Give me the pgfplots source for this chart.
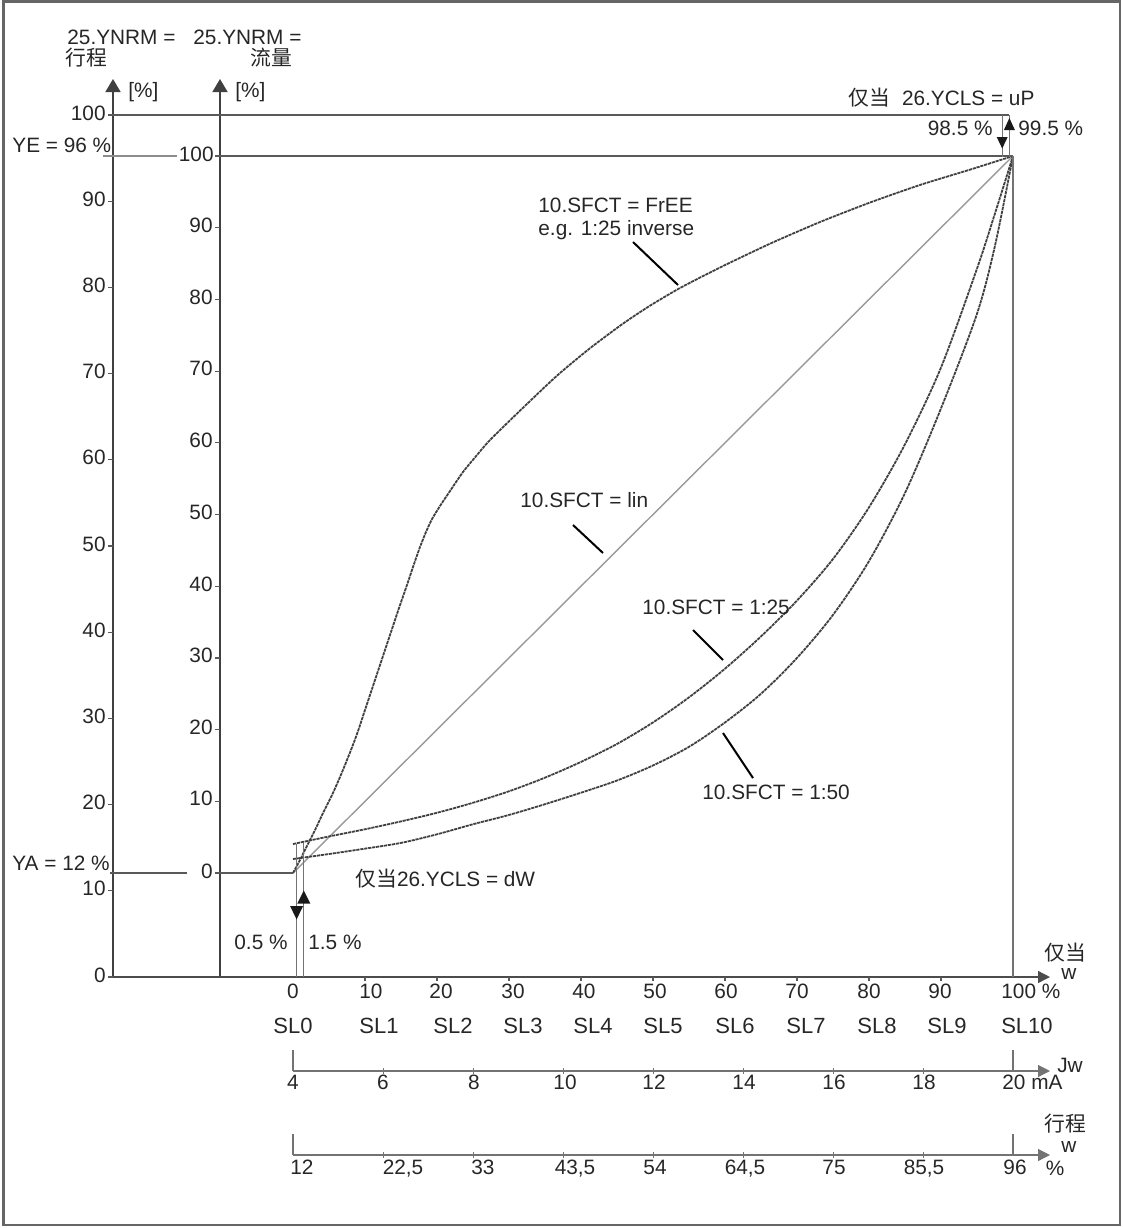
\documentclass[border=0pt]{standalone}
\usepackage{fontspec}
\setmainfont{Liberation Sans}
\newfontfamily\cjk{Noto Sans CJK SC}
\usepackage{pgfplots}
\usepackage{pgfplotstable}
\pgfplotsset{compat=1.18}
\usetikzlibrary{arrows.meta}

\pgfplotstableread{
x y
0 0
100 100
}\lintable

\pgfplotstableread{
x y
0 0
0.97 1.81
1.94 3.77
3.06 6.00
4.17 8.37
5.42 10.88
6.53 13.39
7.78 16.46
8.89 19.39
10.0 22.73
11.11 26.08
12.22 29.43
13.47 33.19
14.58 36.54
15.83 40.17
16.81 43.10
17.64 45.47
18.47 47.56
19.31 49.37
20.42 51.19
21.53 52.86
23.61 55.93
25.56 58.30
27.36 60.39
31.94 64.88
36.67 69.37
41.25 73.19
45.83 76.62
49.58 79.12
53.75 81.59
59.31 84.45
66.25 87.77
73.19 90.79
80.14 93.51
87.08 95.96
94.03 98.10
100 100
}\freetable

\pgfplotstableread{
x y
0 4.04
5 5.1
10 6.1
15 7.2
20 8.4
25 9.8
30 11.4
35 13.3
40 15.5
45 18.0
50 21.0
55 24.5
60 28.5
65 33.0
70 38.0
75 43.8
80 51.0
85 59.8
90 70.5
95 84.3
97.5 92.0
100 100
}\onetwentyfive

\pgfplotstableread{
x y
0 1.95
5 2.65
10 3.4
15 4.2
20 5.4
25 6.8
30 8.1
35 9.6
40 11.2
45 12.9
50 15.0
55 17.6
60 21.0
65 25.0
70 30.0
75 36.0
80 43.5
85 53.0
90 64.8
95 78.0
97.5 87.5
100 100
}\onefifty

\tikzset{
  lbl/.style={font=\fontsize{10.4}{12}\selectfont, inner sep=0pt, text=black!85},
  sl/.style={font=\fontsize{11}{13}\selectfont, inner sep=0pt, text=black!85},
  guide/.style={black!65, line width=0.6pt},
  curve/.style={black!75, line width=0.9pt, dash pattern=on 1.6pt off 0.4pt},
}

\begin{document}
\begin{tikzpicture}
\begin{axis}[
  scale only axis, width=561.5pt, height=614pt,
  xmin=0, xmax=1123, ymin=0, ymax=1228, y dir=reverse,
  hide axis, clip=false, enlargelimits=false,
]
% invisible full-size box
\addplot[draw=none] coordinates {(0,0) (1123,1228)};
% frame
\draw[black!60, line width=1.2pt] (3.5,1.5) rectangle (1120,1225);

% curves
\addplot[black!40, line width=0.7pt] table[x expr=293+7.2*\thisrow{x}, y expr=873-7.17*\thisrow{y}] {\lintable};
\addplot[curve, smooth, tension=0.4] table[x expr=293+7.2*\thisrow{x}, y expr=873-7.17*\thisrow{y}] {\freetable};
\addplot[curve, smooth] table[x expr=293+7.2*\thisrow{x}, y expr=873-7.17*\thisrow{y}] {\onetwentyfive};
\addplot[curve, smooth] table[x expr=293+7.2*\thisrow{x}, y expr=873-7.17*\thisrow{y}] {\onefifty};

% vertical axes
\draw[black!75, line width=0.9pt, -{Triangle[length=6.5pt,width=7.5pt]}] (113,977) -- (113,79);
\draw[black!75, line width=0.9pt, -{Triangle[length=6.5pt,width=7.5pt]}] (220,977) -- (220,79);
% bottom line
\draw[black!70, line width=0.7pt, -{Triangle[length=6pt,width=6pt]}] (113,977) -- (1050,977);

% left axis ticks
\draw[guide] (108,977)--(113,977) (108,890.8)--(113,890.8) (108,804.6)--(113,804.6) (108,718.4)--(113,718.4)
 (108,632.2)--(113,632.2) (108,546)--(113,546) (108,459.8)--(113,459.8) (108,373.6)--(113,373.6)
 (108,287.4)--(113,287.4) (108,201.2)--(113,201.2) (108,115)--(113,115);
\node[lbl,anchor=east] at (106,975) {0};
\node[lbl,anchor=east] at (106,888.8) {10};
\node[lbl,anchor=east] at (106,802.6) {20};
\node[lbl,anchor=east] at (106,716.4) {30};
\node[lbl,anchor=east] at (106,630.2) {40};
\node[lbl,anchor=east] at (106,544) {50};
\node[lbl,anchor=east] at (106,457.8) {60};
\node[lbl,anchor=east] at (106,371.6) {70};
\node[lbl,anchor=east] at (106,285.4) {80};
\node[lbl,anchor=east] at (106,199.2) {90};
\node[lbl,anchor=east] at (106,113) {100};

% flow axis ticks
\draw[guide] (215,873)--(220,873) (215,801.3)--(220,801.3) (215,729.6)--(220,729.6) (215,657.9)--(220,657.9)
 (215,586.2)--(220,586.2) (215,514.5)--(220,514.5) (215,442.8)--(220,442.8) (215,371.1)--(220,371.1)
 (215,299.4)--(220,299.4) (215,227.7)--(220,227.7) (215,156)--(220,156);
\node[lbl,anchor=east] at (213,871) {0};
\node[lbl,anchor=east] at (213,798.5) {10};
\node[lbl,anchor=east] at (213,727) {20};
\node[lbl,anchor=east] at (213,655.5) {30};
\node[lbl,anchor=east] at (213,584) {40};
\node[lbl,anchor=east] at (213,512) {50};
\node[lbl,anchor=east] at (213,440.5) {60};
\node[lbl,anchor=east] at (213,368.5) {70};
\node[lbl,anchor=east] at (213,297) {80};
\node[lbl,anchor=east] at (213,225) {90};

% guide lines
\draw[guide] (113,115) -- (1009.4,115);
\draw[guide] (220,156) -- (1013,156);
\draw[black!45, line width=0.7pt] (103,156) -- (177,156);
\node[lbl,anchor=east] at (214,154) {100};
\draw[guide] (110,873) -- (187,873);
\draw[guide] (220,873) -- (293,873);
\draw[black!55, line width=0.6pt] (1013,156) -- (1013,977);
\draw[black!55, line width=0.6pt] (1002.2,115) -- (1002.2,157);
\draw[black!55, line width=0.6pt] (1009.4,115) -- (1009.4,157);
\draw[black!55, line width=0.6pt] (296.6,844) -- (296.6,977);
\draw[black!55, line width=0.6pt] (303.8,843) -- (303.8,977);

% small triangles
\fill[black!90] (290.1,906) -- (303.1,906) -- (296.6,919.5) -- cycle;
\fill[black!90] (297.3,903.5) -- (310.3,903.5) -- (303.8,890.5) -- cycle;
\fill[black!90] (996.7,137) -- (1007.7,137) -- (1002.2,148.5) -- cycle;
\fill[black!90] (1003.9,130) -- (1014.9,130) -- (1009.4,118) -- cycle;

% pointer lines
\draw[black, line width=1pt] (633,242) -- (678,285);
\draw[black, line width=1pt] (573,525) -- (603,553);
\draw[black, line width=1pt] (693,630) -- (723,660);
\draw[black, line width=1pt] (723,733) -- (753,778);

% curve labels
\node[lbl,anchor=west] at (538,205) {10.SFCT = FrEE};
\node[lbl,anchor=west] at (538,230) {e.g. 1:25 inverse};
\node[lbl,anchor=west] at (520,500) {10.SFCT = lin};
\node[lbl,anchor=west] at (642,607) {10.SFCT = 1:25};
\node[lbl,anchor=west] at (702,792) {10.SFCT = 1:50};

% header texts
\node[lbl,anchor=west] at (67,37) {25.YNRM =};
\node[lbl,anchor=west] at (65,58) {\cjk 行程};
\node[lbl,anchor=west] at (193,37) {25.YNRM =};
\node[lbl,anchor=west] at (250,58) {\cjk 流量};
\node[lbl,anchor=west] at (128,92) {[\%]};
\node[lbl,anchor=west] at (235,92) {[\%]};
\node[lbl,anchor=west] at (12,145) {YE = 96 \%};
\node[lbl,anchor=west] at (12,863) {YA = 12 \%};
\node[lbl,anchor=west] at (848,98) {{\cjk 仅当}\hspace{6pt}26.YCLS = uP};
\node[lbl,anchor=east] at (993,128) {98.5 \%};
\node[lbl,anchor=west] at (1018,128) {99.5 \%};
\node[lbl,anchor=east] at (288,942) {0.5 \%};
\node[lbl,anchor=west] at (308,942) {1.5 \%};
\node[lbl,anchor=west] at (355,879) {{\cjk 仅当}26.YCLS = dW};

% bottom axis ticks and labels
\draw[guide] (365,977)--(365,981) (437,977)--(437,981) (509,977)--(509,981) (581,977)--(581,981)
 (653,977)--(653,981) (725,977)--(725,981) (797,977)--(797,981) (869,977)--(869,981) (941,977)--(941,981);
\node[lbl,anchor=base] at (293,998.5) {0};
\node[lbl,anchor=base] at (371,998.5) {10};
\node[lbl,anchor=base] at (441,998.5) {20};
\node[lbl,anchor=base] at (513,998.5) {30};
\node[lbl,anchor=base] at (584,998.5) {40};
\node[lbl,anchor=base] at (655,998.5) {50};
\node[lbl,anchor=base] at (726,998.5) {60};
\node[lbl,anchor=base] at (797,998.5) {70};
\node[lbl,anchor=base] at (869,998.5) {80};
\node[lbl,anchor=base] at (940,998.5) {90};
\node[lbl,anchor=base west] at (1001,998.5) {100 \%};
\node[lbl] at (1065,953) {\cjk 仅当};
\node[lbl] at (1069,974) {w};

% SL labels
\node[sl,anchor=base] at (293,1033) {SL0};
\node[sl,anchor=base] at (379,1033) {SL1};
\node[sl,anchor=base] at (453,1033) {SL2};
\node[sl,anchor=base] at (523,1033) {SL3};
\node[sl,anchor=base] at (593,1033) {SL4};
\node[sl,anchor=base] at (663,1033) {SL5};
\node[sl,anchor=base] at (735,1033) {SL6};
\node[sl,anchor=base] at (806,1033) {SL7};
\node[sl,anchor=base] at (877,1033) {SL8};
\node[sl,anchor=base] at (947,1033) {SL9};
\node[sl,anchor=base] at (1027,1033) {SL10};

% Jw axis
\draw[black!55, line width=0.6pt, -{Triangle[length=6pt,width=6pt]}] (293,1071) -- (1050,1071);
\draw[black!55, line width=0.6pt] (293,1050) -- (293,1071) (1013,1050) -- (1013,1071);
\draw[black!55, line width=0.5pt] (383,1068)--(383,1074) (473,1068)--(473,1074) (563,1068)--(563,1074)
 (653,1068)--(653,1074) (743,1068)--(743,1074) (833,1068)--(833,1074) (923,1068)--(923,1074);
\node[lbl,anchor=base] at (293,1089.5) {4};
\node[lbl,anchor=base] at (383,1089.5) {6};
\node[lbl,anchor=base] at (474,1089.5) {8};
\node[lbl,anchor=base] at (565,1089.5) {10};
\node[lbl,anchor=base] at (654,1089.5) {12};
\node[lbl,anchor=base] at (744,1089.5) {14};
\node[lbl,anchor=base] at (834,1089.5) {16};
\node[lbl,anchor=base] at (924,1089.5) {18};
\node[lbl,anchor=base west] at (1002,1089.5) {20 mA};
\node[lbl] at (1070,1065) {Jw};

% stroke axis
\draw[black!55, line width=0.6pt, -{Triangle[length=6pt,width=6pt]}] (293,1155) -- (1050,1155);
\draw[black!55, line width=0.6pt] (293,1134) -- (293,1155) (1013,1134) -- (1013,1155);
\draw[black!55, line width=0.5pt] (383,1152)--(383,1158) (473,1152)--(473,1158) (563,1152)--(563,1158)
 (653,1152)--(653,1158) (743,1152)--(743,1158) (833,1152)--(833,1158) (923,1152)--(923,1158);
\node[lbl,anchor=base] at (302,1174.5) {12};
\node[lbl,anchor=base] at (403,1174.5) {22,5};
\node[lbl,anchor=base] at (483,1174.5) {33};
\node[lbl,anchor=base] at (575,1174.5) {43,5};
\node[lbl,anchor=base] at (655,1174.5) {54};
\node[lbl,anchor=base] at (745,1174.5) {64,5};
\node[lbl,anchor=base] at (834,1174.5) {75};
\node[lbl,anchor=base] at (924,1174.5) {85,5};
\node[lbl,anchor=base] at (1015,1174.5) {96};
\node[lbl] at (1065,1124) {\cjk 行程};
\node[lbl] at (1069,1147) {w};
\node[lbl,anchor=base] at (1055,1175) {\%};
\end{axis}
\end{tikzpicture}
\end{document}
